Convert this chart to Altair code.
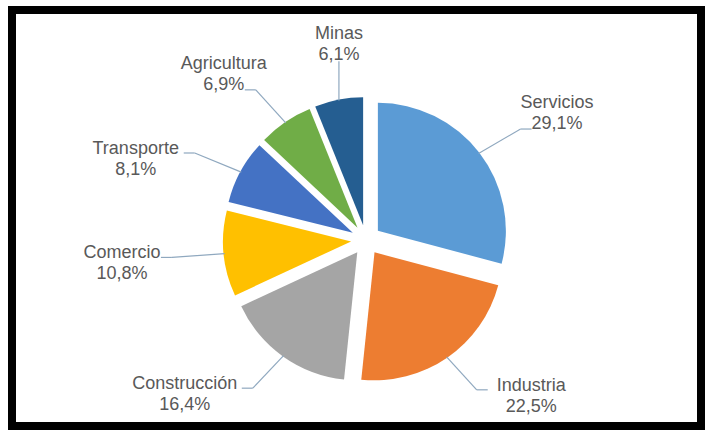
import altair as alt
import pandas as pd

# ---- data ----
sectors = ["Servicios", "Industria", "Construcción", "Comercio", "Transporte", "Agricultura", "Minas"]
shares = [29.1, 22.5, 16.4, 10.8, 8.1, 6.9, 6.1]
share_labels = ["29,1%", "22,5%", "16,4%", "10,8%", "8,1%", "6,9%", "6,1%"]
colors = ["#5B9BD5", "#ED7D31", "#A5A5A5", "#FFC000", "#4472C4", "#70AD47", "#255E91"]

df = pd.DataFrame({
    "name": sectors,
    "value": shares,
    "pct": share_labels,
    "idx": list(range(len(sectors))),
})

# ---- layout constants (view coordinates) ----
CX, CY = 354, 230      # pie centre
R = 128                # pie radius
D = 15                 # explode distance
RXE, RYE = 195, 182    # leader elbow ellipse
SEG = 11               # horizontal leader segment
FS = 18                # label font size
LH = 21                # label line height
CWID = 9               # approx char width

base = alt.Chart(df).transform_window(
    cum="sum(value)", sort=[alt.SortField("idx")], frame=[None, 0]
).transform_joinaggregate(
    total="sum(value)"
).transform_calculate(
    a0="(datum.cum - datum.value) / datum.total * 2 * PI",
    a1="datum.cum / datum.total * 2 * PI",
).transform_calculate(
    m="(datum.a0 + datum.a1) / 2",
).transform_calculate(
    sx="sin(datum.m)",
    cy_="cos(datum.m)",
).transform_calculate(
    px=f"{CX} + {D} * datum.sx",
    py=f"{CY} - {D} * datum.cy_",
    ex=f"{CX} + {D + R - 1} * datum.sx",
    ey=f"{CY} - {D + R - 1} * datum.cy_",
    side="datum.sx >= 0 ? 1 : -1",
    top="abs(datum.sx) < 0.3",
    upper="datum.cy_ > 0.55",
).transform_calculate(
    bx=f"datum.top ? datum.ex : {CX} + {RXE} * datum.sx",
    by=f"{CY} - {RYE} * datum.cy_",
).transform_calculate(
    tx=f"datum.top ? datum.bx : datum.bx + datum.side * {SEG}",
    cw=f"(datum.upper ? length(datum.pct) : length(datum.name)) * {CWID}",
).transform_calculate(
    lx="datum.top ? datum.bx : datum.tx + datum.side * (3 + datum.cw / 2)",
    ny=f"datum.top ? datum.by - 6 - {LH} : (datum.upper ? datum.by - 5 - {LH} : datum.by - 4)",
).transform_calculate(
    pyl=f"datum.ny + {LH}",
)

arcs = base.mark_arc(radius=R).encode(
    theta=alt.Theta("a0:Q", scale=None),
    theta2=alt.Theta2("a1:Q"),
    x=alt.X("px:Q", scale=None, axis=None),
    y=alt.Y("py:Q", scale=None, axis=None),
    color=alt.Color("name:N", scale=alt.Scale(domain=sectors, range=colors), legend=None),
)

lead_color = "#8FA8BF"
lead1 = base.mark_rule(color=lead_color, strokeWidth=1.2).encode(
    x=alt.X("ex:Q", scale=None, axis=None),
    y=alt.Y("ey:Q", scale=None, axis=None),
    x2="bx:Q",
    y2="by:Q",
)
lead2 = base.mark_rule(color=lead_color, strokeWidth=1.2).encode(
    x=alt.X("bx:Q", scale=None, axis=None),
    y=alt.Y("by:Q", scale=None, axis=None),
    x2="tx:Q",
    y2="by:Q",
)

txt_name = base.mark_text(font="Liberation Sans", fontSize=FS, color="#595959",
                          align="center", baseline="middle").encode(
    x=alt.X("lx:Q", scale=None, axis=None),
    y=alt.Y("ny:Q", scale=None, axis=None),
    text="name:N",
)
txt_pct = base.mark_text(font="Liberation Sans", fontSize=FS, color="#595959",
                         align="center", baseline="middle").encode(
    x=alt.X("lx:Q", scale=None, axis=None),
    y=alt.Y("pyl:Q", scale=None, axis=None),
    text="pct:N",
)

chart = alt.layer(arcs, lead1, lead2, txt_name, txt_pct).properties(
    width=689, height=416,
    autosize=alt.AutoSizeParams(type="none"),
    padding={"left": 12, "top": 10, "right": 8, "bottom": 5},
    background="white",
).configure_view(stroke="black", strokeWidth=8, strokeJoin="miter", cornerRadius=0)

chart.save("out.html", embed_options={"renderer": "svg", "actions": False})
